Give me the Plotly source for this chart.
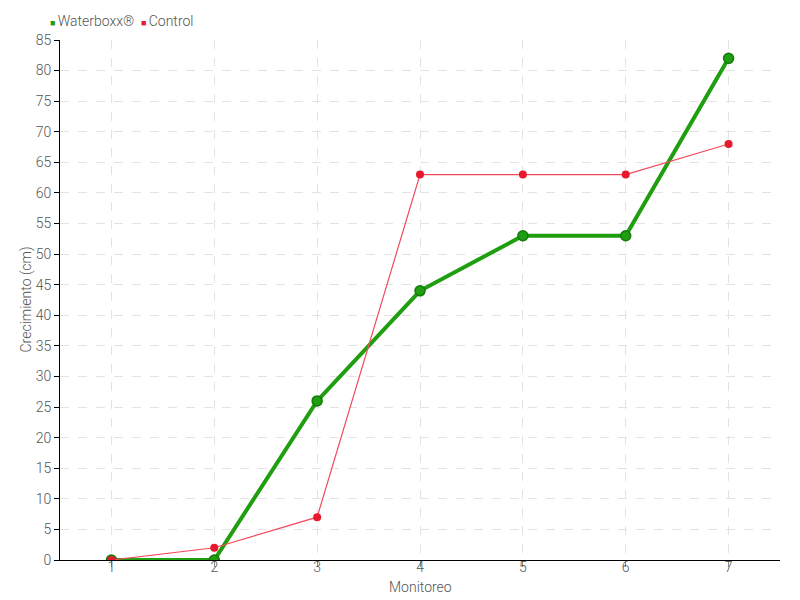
import plotly.graph_objects as go

categories = [1, 2, 3, 4, 5, 6, 7]
waterboxx = [0, 0, 26, 44, 53, 53, 82]
control = [0, 2, 7, 63, 63, 63, 68]
y_ticks = list(range(0, 90, 5))
series_names = ["Waterboxx®", "Control"]
x_title = "Monitoreo"
y_title = "Crecimiento (cm)"

FONT = "Roboto"
GREEN = "#1f9e10"
RED = "#e8192c"
TXT = "#555555"

fig = go.Figure()
fig.add_trace(go.Scatter(
    x=categories, y=waterboxx, name=series_names[0], mode="lines+markers",
    line=dict(color=GREEN, width=4), showlegend=False,
    marker=dict(size=10, color=GREEN, line=dict(color="#157a0a", width=1.5)),
))
fig.add_trace(go.Scatter(
    x=categories, y=control, name=series_names[1], mode="lines+markers",
    line=dict(color="#f24a5a", width=1.2), showlegend=False,
    marker=dict(size=8, color=RED),
))

legend_text = (
    f"<span style='color:{GREEN};font-size:9px'>■ </span>{series_names[0]}  "
    f"<span style='color:{RED};font-size:9px'>■ </span>{series_names[1]}"
)
fig.add_annotation(text=legend_text, xref="paper", yref="paper",
                   x=-0.017, y=1.0, xanchor="left", yanchor="bottom", yshift=9,
                   showarrow=False, font=dict(size=14, color=TXT))
fig.add_annotation(text=x_title, xref="paper", yref="paper", x=0.5, y=0,
                   xanchor="center", yanchor="top", yshift=-17,
                   showarrow=False, font=dict(size=14, color=TXT))
fig.add_annotation(text=y_title, xref="paper", yref="paper", x=0, y=0.5,
                   xanchor="right", yanchor="middle", xshift=-24, textangle=-90,
                   showarrow=False, font=dict(size=14, color=TXT))

fig.update_layout(
    width=800, height=600,
    paper_bgcolor="white", plot_bgcolor="white",
    margin=dict(l=52, r=28, t=32, b=48, autoexpand=False),
    font=dict(family=FONT, size=14, color=TXT, weight=300),
    showlegend=False,
    xaxis=dict(
        range=[0.5, 7.5], tickmode="array", tickvals=categories,
        ticktext=[str(c) for c in categories],
        showgrid=True, gridcolor="#e3e3e3", griddash="dash", gridwidth=1,
        showline=True, linecolor="black", linewidth=1,
        ticks="outside", ticklen=6, tickcolor="#888", ticklabelstandoff=-12,
        zeroline=False, automargin=False,
    ),
    yaxis=dict(
        range=[0, 85], tickmode="array", tickvals=y_ticks,
        showgrid=True, gridcolor="#e3e3e3", griddash="dash", gridwidth=1,
        showline=True, linecolor="black", linewidth=1,
        ticks="outside", ticklen=5, tickcolor="black", ticklabelstandoff=0,
        zeroline=False, automargin=False,
    ),
)

fig.write_html("out.html")
